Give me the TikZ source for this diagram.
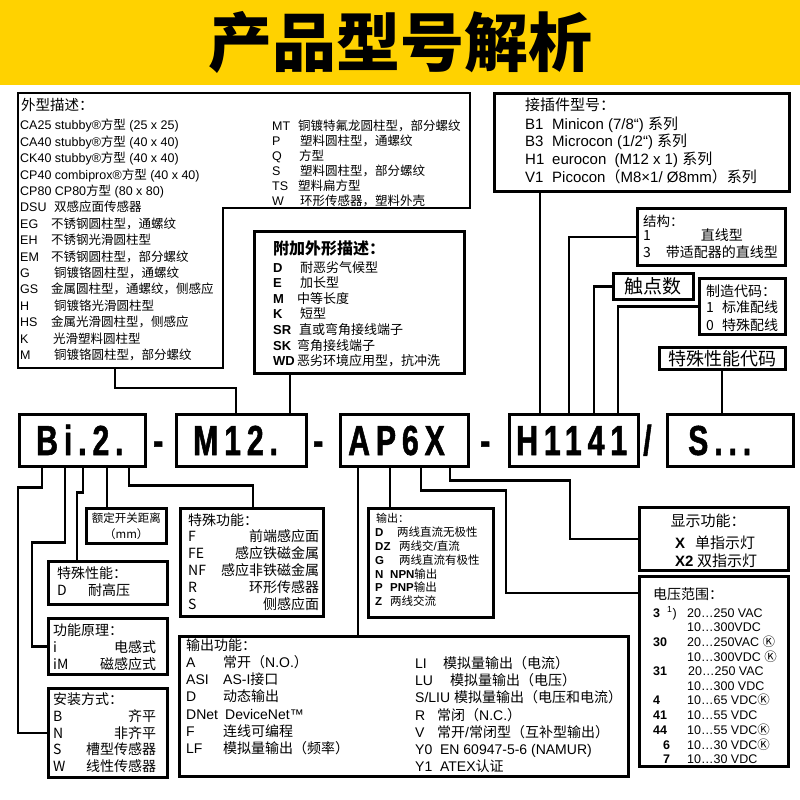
\documentclass[tikz,border=0pt]{standalone}
\usepackage{fontspec}
\setmainfont{Liberation Sans}
\newfontfamily\cjk{Noto Sans CJK SC}
\newfontfamily\codefont[FakeStretch=0.72,LetterSpace=14,BoldFeatures={FakeBold=1.2}]{Liberation Sans}
\usetikzlibrary{positioning}

\definecolor{bandyellow}{HTML}{FFD200}

% Chinese characters are set in the CJK family, everything else in Liberation Sans
\newXeTeXintercharclass\hanclass
\makeatletter
\def\hanrange#1#2{\count@=#1\relax
  \loop\XeTeXcharclass\count@=\hanclass
  \ifnum\count@<#2\advance\count@\@ne\repeat}
\hanrange{"3000}{"303F}
\hanrange{"4E00}{"9FFF}
\hanrange{"FF00}{"FFEF}
\makeatother
\def\tohan{\cjk}
\def\tolatin{\rmfamily}
\XeTeXinterchartoks 0 \hanclass = {\tohan}
\XeTeXinterchartoks 4095 \hanclass = {\tohan}
\XeTeXinterchartoks \hanclass 0 = {\tolatin}
\XeTeXinterchartoks \hanclass 4095 = {\tolatin}
\XeTeXinterchartokenstate=1

\newcommand\heifont{\cjk\def\tolatin{}}
\newcommand\kmark{{\cjk Ⓚ}}

\begin{document}
\begin{tikzpicture}[x=1pt, y=-1pt,
    frame/.style={draw, line width=2.6pt, inner sep=0pt, anchor=north west},
    wire/.style={line width=2.6pt},
    txt/.style={anchor=north west, inner sep=0pt},
    lbl/.style={anchor=west, inner sep=0pt},
    codetxt/.style={anchor=base west, inner sep=0pt, font=\codefont\bfseries\fontsize{42}{42}\selectfont}]

\useasboundingbox (0,0) rectangle (800,800);
\fill[bandyellow] (0,0) rectangle (800,85);
\node[font=\cjk\bfseries\fontsize{64}{64}\selectfont] (title) at (400,42) {产品型号解析};

% the code itself
\node[frame, minimum width=126pt, minimum height=52pt] (bi) at (18,413) {};
\node[frame, minimum width=130pt, minimum height=52pt] (m12) at (175,413) {};
\node[frame, minimum width=128pt, minimum height=52pt] (ap) at (339,413) {};
\node[frame, minimum width=129pt, minimum height=52pt] (hbox) at (508,413) {};
\node[frame, minimum width=126pt, minimum height=52pt] (sbox) at (666,413) {};
\node[codetxt] (bitxt) at (36,455) {Bi.2.};
\node[codetxt] (m12txt) at (193,455) {M12.};
\node[codetxt] (aptxt) at (348,455) {AP6X};
\node[codetxt] (htxt) at (516,455) {H1141};
\node[codetxt] (stxt) at (688,455) {S...};
\node[codetxt] (dash1) at (153,455) {-};
\node[codetxt] (dash2) at (313,455) {-};
\node[codetxt] (dash3) at (480,455) {-};
\node[codetxt] (slash) at (643,455) {/};

% shape description (L-shaped box)
\draw[wire] (18,93) -- (470,93) -- (470,208) -- (223,208) -- (223,368) -- (18,368) -- cycle;
\coordinate (shapebot) at (115,368);
\node[lbl, font=\fontsize{14.5}{16}\selectfont] (shapetitle) at (21,105) {外型描述：};
\node[txt, font=\fontsize{12.5}{16.4}\selectfont] (shapelist) at (20,118.3) {\begin{tabular}{@{}l@{}}
CA25 stubby®方型 (25 x 25)\\
CA40 stubby®方型 (40 x 40)\\
CK40 stubby®方型 (40 x 40)\\
CP40 combiprox®方型 (40 x 40)\\
CP80 CP80方型 (80 x 80)\\
\makebox[34pt][l]{DSU}双感应面传感器\\
\makebox[31pt][l]{EG}不锈钢圆柱型，通螺纹\\
\makebox[31pt][l]{EH}不锈钢光滑圆柱型\\
\makebox[31pt][l]{EM}不锈钢圆柱型，部分螺纹\\
\makebox[34pt][l]{G}铜镀铬圆柱型，通螺纹\\
\makebox[31pt][l]{GS}金属圆柱型，通螺纹，侧感应\\
\makebox[34pt][l]{H}铜镀铬光滑圆柱型\\
\makebox[31pt][l]{HS}金属光滑圆柱型，侧感应\\
\makebox[33pt][l]{K}光滑塑料圆柱型\\
\makebox[34pt][l]{M}铜镀铬圆柱型，部分螺纹
\end{tabular}};
\node[txt, font=\fontsize{12.5}{15}\selectfont] (shapelist2) at (272,119.3) {\begin{tabular}{@{}l@{}}
\makebox[26pt][l]{MT}铜镀特氟龙圆柱型，部分螺纹\\
\makebox[28pt][l]{P}塑料圆柱型，通螺纹\\
\makebox[27pt][l]{Q}方型\\
\makebox[28pt][l]{S}塑料圆柱型，部分螺纹\\
\makebox[26pt][l]{TS}塑料扁方型\\
\makebox[28pt][l]{W}环形传感器，塑料外壳
\end{tabular}};

% additional shape description
\node[frame, minimum width=210pt, minimum height=142pt] (fujia) at (253,230) {};
\node[lbl, font=\bfseries\fontsize{16}{18}\selectfont] (fujiatitle) at (273,248) {附加外形描述：};
\node[txt, font=\fontsize{13}{15.2}\selectfont] (fujialist) at (273,261.3) {\begin{tabular}{@{}l@{}}
\makebox[27pt][l]{\bfseries D}耐恶劣气候型\\
\makebox[27pt][l]{\bfseries E}加长型\\
\makebox[24pt][l]{\bfseries M}中等长度\\
\makebox[27pt][l]{\bfseries K}短型\\
\makebox[26pt][l]{\bfseries SR}直或弯角接线端子\\
\makebox[24pt][l]{\bfseries SK}弯角接线端子\\
\makebox[24pt][l]{\bfseries WD}恶劣环境应用型，抗冲洗
\end{tabular}};

% connector type
\node[frame, minimum width=295pt, minimum height=98pt] (jiecha) at (493,92) {};
\node[lbl, font=\fontsize{15}{17}\selectfont] (jiechatitle) at (525,105) {接插件型号：};
\node[txt, font=\fontsize{15}{17.4}\selectfont] (jiechalist) at (525,116.5) {\begin{tabular}{@{}l@{}}
\makebox[27pt][l]{B1}Minicon (7/8“) 系列\\
\makebox[27pt][l]{B3}Microcon (1/2“) 系列\\
\makebox[27pt][l]{H1}eurocon\ \ (M12 x 1) 系列\\
\makebox[27pt][l]{V1}Picocon（M8×1/ Ø8mm）系列
\end{tabular}};

% construction
\node[frame, minimum width=148pt, minimum height=57pt] (jiegou) at (636,207) {};
\node[lbl, font=\heifont\fontsize{13.5}{15}\selectfont] (jiegoutitle) at (643,221) {结构：};
\node[txt, font=\heifont\fontsize{14}{17}\selectfont] (jiegoulist) at (643,228.4) {\begin{tabular}{@{}l@{\hspace{15pt}}c@{}}
1 & 直线型\\
3 & 带适配器的直线型
\end{tabular}};

% number of contacts
\node[frame, minimum width=80pt, minimum height=26pt] (chudian) at (612,272) {};
\node[font=\heifont\fontsize{19}{20}\selectfont] (chudiantxt) at (chudian.center) {触点数};

% manufacturing code
\node[frame, minimum width=86pt, minimum height=56pt] (zhizao) at (698,277) {};
\node[lbl, font=\heifont\fontsize{14}{16}\selectfont] (zhizaotitle) at (706,291) {制造代码：};
\node[txt, font=\heifont\fontsize{14}{18}\selectfont] (zhizaolist) at (706,299.7) {\begin{tabular}{@{}l@{}}
\makebox[16pt][l]{1}标准配线\\
\makebox[16pt][l]{0}特殊配线
\end{tabular}};

% special feature code
\node[frame, minimum width=126pt, minimum height=22pt] (tsdm) at (658,346) {};
\node[font=\heifont\fontsize{18}{20}\selectfont] (tsdmtxt) at (tsdm.center) {特殊性能代码};

% rated switching distance
\node[frame, minimum width=80pt, minimum height=35pt] (eding) at (85,507) {};
\node[align=center, inner sep=0pt, font=\heifont\fontsize{11.5}{16}\selectfont] (edingtxt) at (eding.center) {额定开关距离\\（mm）};

% special function
\node[frame, minimum width=143pt, minimum height=108pt] (tsgn) at (179,507) {};
\node[lbl, font=\heifont\fontsize{14}{16}\selectfont] (tsgntitle) at (188,520) {特殊功能：};
\node[txt, font=\heifont\fontsize{14}{17}\selectfont] (tsgnlist) at (188,529.4) {\begin{tabular*}{131pt}{@{}l@{\extracolsep{\fill}}r@{}}
F & 前端感应面\\
FE & 感应铁磁金属\\
NF & 感应非铁磁金属\\
R & 环形传感器\\
S & 侧感应面
\end{tabular*}};

% special property
\node[frame, minimum width=119pt, minimum height=43pt] (tsxn) at (47,560) {};
\node[lbl, font=\heifont\fontsize{14}{16}\selectfont] (tsxntitle) at (57,573) {特殊性能：};
\node[lbl, font=\heifont\fontsize{14}{16}\selectfont] (tsxnrow) at (57,590) {\makebox[31pt][l]{D}耐高压};

% operating principle
\node[frame, minimum width=119pt, minimum height=56pt] (gnyl) at (47,617) {};
\node[lbl, font=\heifont\fontsize{14}{16}\selectfont] (gnyltitle) at (53,630) {功能原理：};
\node[txt, font=\heifont\fontsize{14}{16.5}\selectfont] (gnyllist) at (53,640.9) {\begin{tabular*}{103pt}{@{}l@{\extracolsep{\fill}}r@{}}
i & 电感式\\
iM & 磁感应式
\end{tabular*}};

% mounting
\node[frame, minimum width=119pt, minimum height=89pt] (azfs) at (47,687) {};
\node[lbl, font=\heifont\fontsize{14}{16}\selectfont] (azfstitle) at (53,699) {安装方式：};
\node[txt, font=\heifont\fontsize{14}{16.4}\selectfont] (azfslist) at (53,709.5) {\begin{tabular*}{103pt}{@{}l@{\extracolsep{\fill}}r@{}}
B & 齐平\\
N & 非齐平\\
S & 槽型传感器\\
W & 线性传感器
\end{tabular*}};

% output
\node[frame, minimum width=125pt, minimum height=109pt] (shuchu) at (367,507) {};
\node[lbl, font=\fontsize{11}{13}\selectfont] (shuchutitle) at (376,518) {输出：};
\node[txt, font=\fontsize{11.5}{13.6}\selectfont] (shuchulist) at (375,526.9) {\begin{tabular}{@{}l@{}}
\makebox[22pt][l]{\bfseries D}两线直流无极性\\
\makebox[24pt][l]{\bfseries DZ}两线交/直流\\
\makebox[24pt][l]{\bfseries G}两线直流有极性\\
\makebox[15pt][l]{\bfseries N}{\bfseries NPN}输出\\
\makebox[15pt][l]{\bfseries P}{\bfseries PNP}输出\\
\makebox[15pt][l]{\bfseries Z}两线交流
\end{tabular}};

% display function
\node[frame, minimum width=149pt, minimum height=63pt] (xsgn) at (638,506) {};
\node[font=\fontsize{15}{17}\selectfont, inner sep=0pt] (xsgntitle) at (708,521) {显示功能：};
\node[txt, font=\fontsize{15}{17.5}\selectfont] (xsgnlist) at (675,535.7) {\begin{tabular}{@{}l@{}}
\makebox[20pt][l]{\bfseries X}单指示灯\\
\makebox[22pt][l]{\bfseries X2}双指示灯
\end{tabular}};

% voltage range
\node[frame, minimum width=149pt, minimum height=190pt] (dyfw) at (638,575) {};
\node[lbl, font=\fontsize{14}{16}\selectfont] (dyfwtitle) at (653,594) {电压范围：};
\node[txt, font=\fontsize{12.5}{14.4}\selectfont] (dyfwlist) at (653,606.5) {\begin{tabular}{@{}l@{}}
\makebox[34pt][l]{\bfseries 3\hspace{7pt}\mdseries\textsuperscript{1})}20…250 VAC\\
\makebox[34pt][l]{}10…300VDC\\
\makebox[34pt][l]{\bfseries 30}20…250VAC \kmark\\
\makebox[34pt][l]{}10…300VDC \kmark\\
\makebox[35pt][l]{\bfseries 31}20…250 VAC\\
\makebox[34pt][l]{}10…300 VDC\\
\makebox[34pt][l]{\bfseries 4}10…65 VDC\kmark\\
\makebox[34pt][l]{\bfseries 41}10…55 VDC\\
\makebox[34pt][l]{\bfseries 44}10…55 VDC\kmark\\
\makebox[34pt][l]{\hspace{10pt}\bfseries 6}10…30 VDC\kmark\\
\makebox[34pt][l]{\hspace{10pt}\bfseries 7}10…30 VDC
\end{tabular}};

% output function
\node[frame, minimum width=449pt, minimum height=140pt] (scgn) at (178,635) {};
\node[lbl, font=\fontsize{14}{16}\selectfont] (scgntitle) at (186,645) {输出功能：};
\node[txt, font=\fontsize{14}{17.2}\selectfont] (scgnleft) at (186,655.3) {\begin{tabular}{@{}l@{}}
\makebox[37pt][l]{A}常开（N.O.）\\
\makebox[37pt][l]{ASI}AS-I接口\\
\makebox[37pt][l]{D}动态输出\\
\makebox[39pt][l]{DNet}DeviceNet™\\
\makebox[37pt][l]{F}连线可编程\\
\makebox[37pt][l]{LF}模拟量输出（频率）
\end{tabular}};
\node[txt, font=\fontsize{14}{17.2}\selectfont] (scgnright) at (415,656.3) {\begin{tabular}{@{}l@{}}
\makebox[28pt][l]{LI}模拟量输出（电流）\\
\makebox[35pt][l]{LU}模拟量输出（电压）\\
S/LIU 模拟量输出（电压和电流）\\
\makebox[22pt][l]{R}常闭（N.C.）\\
\makebox[22pt][l]{V}常开/常闭型（互补型输出）\\
Y0\ \ EN 60947-5-6 (NAMUR)\\
Y1\ \ ATEX认证
\end{tabular}};

% connectors
\coordinate (m12a) at ([xshift=61pt]m12.north west);
\coordinate (m12b) at ([xshift=115pt]m12.north west);
\coordinate (h1) at ([xshift=32pt]hbox.north west);
\coordinate (h2) at ([xshift=61pt]hbox.north west);
\coordinate (h3) at ([xshift=86pt]hbox.north west);
\coordinate (h4) at ([xshift=110pt]hbox.north west);
\coordinate (s1) at ([xshift=56pt]sbox.north west);
\coordinate (b1) at ([xshift=24pt]bi.south west);
\coordinate (b2) at ([xshift=47pt]bi.south west);
\coordinate (b3) at ([xshift=65pt]bi.south west);
\coordinate (b4) at ([xshift=89pt]bi.south west);
\coordinate (b5) at ([xshift=111pt]bi.south west);
\coordinate (a1) at ([xshift=19pt]ap.south west);
\coordinate (a2) at ([xshift=51pt]ap.south west);
\coordinate (a3) at ([xshift=82pt]ap.south west);
\coordinate (a4) at ([xshift=111pt]ap.south west);
\coordinate (t3) at ([xshift=30pt]tsxn.north west);
\coordinate (t5) at ([xshift=74pt]tsgn.north west);
\coordinate (dy) at ([yshift=-18pt]dyfw.north west);

\draw[wire] (shapebot) -- ++(0,20) -| (m12a);
\draw[wire] (m12b |- fujia.south) -- (m12b);
\draw[wire] (h1 |- jiecha.south) -- (h1);
\draw[wire] (jiegou.west) -| (h2);
\draw[wire] (chudian.west) -| (h3);
\draw[wire] (zhizao.west) -| (h4);
\draw[wire] (s1 |- tsdm.south) -- (s1);
\draw[wire] (b1) -- ++(0,20) -- ++(-24,0) |- (azfs.west);
\draw[wire] (b2) -- ++(0,75) -- ++(-33,0) |- (gnyl.west);
\draw[wire] (b3) -- ++(0,25) -| (t3);
\draw[wire] (b4) -- (b4 |- eding.north);
\draw[wire] (b5) -- ++(0,18) -| (t5);
\draw[wire] (a1) -- (a1 |- scgn.north);
\draw[wire] (a2) -- (a2 |- shuchu.north);
\draw[wire] (a3) -- ++(0,23) -- ++(85,0) |- (dy);
\draw[wire] (a4) -- ++(0,13) -- ++(120,0) |- (xsgn.west);
\end{tikzpicture}
\end{document}
